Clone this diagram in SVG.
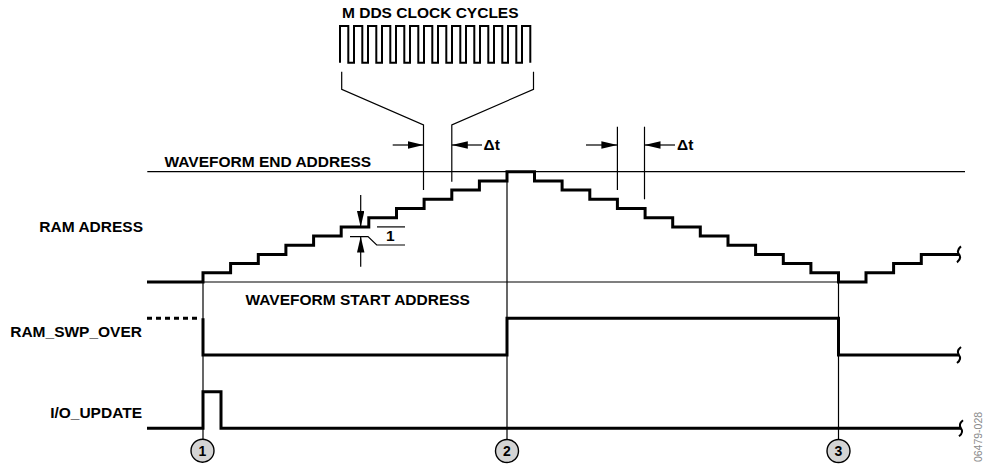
<svg xmlns="http://www.w3.org/2000/svg" width="983" height="465" viewBox="0 0 983 465">
<defs>
<style>
.t{font-family:"Liberation Sans",Arial,Helvetica,sans-serif;font-weight:bold;font-size:15.5px;fill:#000}
.thick{fill:none;stroke:#000;stroke-width:3;stroke-linejoin:miter;stroke-linecap:butt}
.thin{fill:none;stroke:#000;stroke-width:1.2}
.clk{fill:none;stroke:#000;stroke-width:2}
.tl{fill:none;stroke:#000;stroke-width:2}
.circ{fill:#d4d4d4;stroke:#000;stroke-width:1.4}
.num{font-family:"Liberation Sans",Arial,Helvetica,sans-serif;font-weight:bold;font-size:14px;fill:#000;text-anchor:middle}
</style>
<marker id="ah" markerUnits="userSpaceOnUse" markerWidth="17" markerHeight="8" refX="16" refY="3.75" orient="auto">
<path d="M0,0 L16,3.75 L0,7.5 z" fill="#000"/>
</marker>
</defs>
<rect width="983" height="465" fill="#fff"/>

<g id="labels">
<text class="t" x="143" y="232.3" text-anchor="end">RAM ADRESS</text>
<text class="t" x="142" y="337.3" text-anchor="end">RAM_SWP_OVER</text>
<text class="t" x="142" y="418.3" text-anchor="end">I/O_UPDATE</text>
<text class="t" x="164.5" y="166.7">WAVEFORM END ADDRESS</text>
<text class="t" x="245.5" y="305">WAVEFORM START ADDRESS</text>
<text class="t" x="342" y="18.3">M DDS CLOCK CYCLES</text>
<text class="t" x="483.5" y="149.5">Δt</text>
<text class="t" x="677" y="149.5">Δt</text>
<text class="t" x="386" y="240.7">1</text>
<text x="0" y="0" transform="translate(982,437) rotate(-90)" font-family="Liberation Sans,Arial,sans-serif" font-size="10.5" fill="#8a8a8a" text-anchor="middle">06479-028</text>
</g>

<g id="clock">
<path class="clk" d="M340,62.7 V26 H348.3 V62.7 H354 V26 H362.3 V62.7 H368 V26 H376.3 V62.7 H382 V26 H390.3 V62.7 H396 V26 H404.3 V62.7 H410 V26 H418.3 V62.7 H424 V26 H432.3 V62.7 H438 V26 H446.3 V62.7 H452 V26 H460.3 V62.7 H466 V26 H474.3 V62.7 H480 V26 H488.3 V62.7 H494 V26 H502.3 V62.7 H508 V26 H516.3 V62.7 H522 V26 H530.3 V62.7"/>
<path class="thin" d="M341.7,71.7 V89.3 L423.5,125 V190"/>
<path class="thin" d="M533.5,71.7 V89.3 L451.8,125 V181.7"/>
</g>

<g id="reference-lines">
<line class="thin" x1="147.3" y1="171.7" x2="965" y2="171.7"/>
<line class="thin" x1="203" y1="282" x2="838.5" y2="282"/>
<line class="thin" x1="203" y1="282" x2="203" y2="439.2"/>
<line class="thin" x1="507" y1="171.7" x2="507" y2="439.5"/>
<line class="thin" x1="838.5" y1="282" x2="838.5" y2="439.5"/>
<line class="thin" x1="617.4" y1="126.7" x2="617.4" y2="190"/>
<line class="thin" x1="644.5" y1="126.7" x2="644.5" y2="199.3"/>
</g>

<g id="connectors">
<line class="thin" x1="392.7" y1="145" x2="423.5" y2="145" marker-end="url(#ah)"/>
<line class="thin" x1="482" y1="145" x2="451.8" y2="145" marker-end="url(#ah)"/>
<line class="thin" x1="586" y1="145" x2="617.4" y2="145" marker-end="url(#ah)"/>
<line class="thin" x1="675" y1="145" x2="644.5" y2="145" marker-end="url(#ah)"/>
<line class="thin" x1="360.7" y1="195" x2="360.7" y2="226.9" marker-end="url(#ah)"/>
<line class="thin" x1="360.7" y1="266.7" x2="360.7" y2="236.6" marker-end="url(#ah)"/>
<path class="thin" d="M350,236.6 H368 L376.7,245 H405"/>
<line class="thin" x1="377" y1="226.9" x2="405" y2="226.9"/>
</g>

<g id="ram-address">
<path class="thick" d="M147,282 H203 V272.8 H230.6 V263.6 H258.3 V254.4 H285.9 V245.2 H313.6 V236.1 H341.2 V226.9 H368.8 V217.7 H396.5 V208.5 H424.1 V199.3 H451.8 V190.1 H479.4 V180.9 H507 V171.7 H534.5 V180.9 H562.1 V190.1 H589.8 V199.3 H617.4 V208.5 H645.1 V217.7 H672.7 V226.9 H700.3 V236.1 H728 V245.2 H755.6 V254.4 H783.3 V263.6 H810.9 V272.8 H838.5 V282 H866 V272.8 H893.6 V263.6 H921.3 V254.4 H959"/>
<path class="tl" d="M961,246.4 Q956,250.4 959,254.4 Q962,258.4 957,262.4"/>
</g>

<g id="ram-swp-over">
<line class="thick" x1="147" y1="318.3" x2="197" y2="318.3" stroke-dasharray="5 4"/>
<path class="thick" d="M203,318.3 V355 H507 V318.3 H838.5 V355 H959"/>
<path class="tl" d="M961,347 Q956,351 959,355 Q962,359 957,363"/>
</g>

<g id="io-update">
<path class="thick" d="M147,428.3 H203 V391.7 H221 V428.3 H961"/>
<path class="tl" d="M963,420.3 Q958,424.3 961,428.3 Q964,432.3 959,436.3"/>
</g>

<g id="marker-1">
<circle class="circ" cx="202.5" cy="450.7" r="11.5"/>
<text class="num" x="202.5" y="455.7">1</text>
</g>
<g id="marker-2">
<circle class="circ" cx="507" cy="451" r="11.5"/>
<text class="num" x="507" y="456">2</text>
</g>
<g id="marker-3">
<circle class="circ" cx="838.5" cy="451" r="11.5"/>
<text class="num" x="838.5" y="456">3</text>
</g>
</svg>
